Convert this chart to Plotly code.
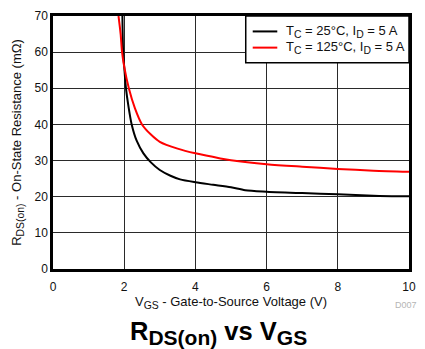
import plotly.graph_objects as go

# On-state resistance vs gate-source voltage, two case temperatures
vgs_25c = [1.95, 1.97, 2.0, 2.05, 2.12, 2.21, 2.35, 2.54, 2.75, 3.0, 3.3, 3.57,
           4.0, 4.5, 5.0, 5.4, 6.0, 7.0, 8.0, 9.0, 10.0]
rds_25c = [70, 60, 56, 50, 45, 40, 35.5, 32, 29.5, 27.4, 25.8, 24.8,
           24.0, 23.3, 22.6, 21.8, 21.4, 21.0, 20.7, 20.3, 20.1]

vgs_125c = [1.84, 1.90, 1.94, 2.0, 2.13, 2.3, 2.5, 2.75, 3.0, 3.5, 4.0,
            4.7, 5.0, 6.0, 7.0, 8.0, 9.0, 10.0]
rds_125c = [70, 65, 60, 56, 50, 44.5, 40, 37.2, 35.2, 33.3, 32.0,
            30.6, 30.1, 29.0, 28.3, 27.7, 27.2, 26.9]

legend_labels = [("T", "C", " = 25°C, ", "I", "D", " = 5 A"),
                 ("T", "C", " = 125°C, ", "I", "D", " = 5 A")]
legend_colors = ["black", "#ff0000"]

x_ticks = [0, 2, 4, 6, 8, 10]
y_ticks = [0, 10, 20, 30, 40, 50, 60, 70]

FONT = "Liberation Sans, Arial, sans-serif"
INK = "#111111"


def sub(text, px):
    """Subscript with an explicit pixel size (larger than plotly's 70 % default)."""
    return f"<sub><span style='font-size:{px}px'>{text}</span></sub>"


fig = go.Figure()
fig.add_trace(go.Scatter(
    x=vgs_25c, y=rds_25c, mode="lines", showlegend=False,
    line=dict(color=legend_colors[0], width=2, shape="spline", smoothing=0.8)))
fig.add_trace(go.Scatter(
    x=vgs_125c, y=rds_125c, mode="lines", showlegend=False,
    line=dict(color=legend_colors[1], width=2, shape="spline", smoothing=0.8)))

axis_common = dict(
    showline=True, linewidth=2.5, linecolor="black", mirror=True,
    showgrid=True, gridcolor="#2a2a2a", gridwidth=1,
    zeroline=False, ticks="", tickfont=dict(family=FONT, size=12, color=INK),
)

fig.update_xaxes(range=[0, 10], tickvals=x_ticks, ticklabelstandoff=5,
                 title=dict(text="V" + sub("GS", 10.4) + " - Gate-to-Source Voltage (V)",
                            font=dict(family=FONT, size=13, color=INK), standoff=0),
                 **axis_common)
fig.update_yaxes(range=[0, 70], tickvals=y_ticks,
                 title=dict(text="R" + sub("DS(on)", 10.4) + " - On-State Resistance (mΩ)",
                            font=dict(family=FONT, size=13, color=INK), standoff=10),
                 **axis_common)

# Legend: bordered box in the top-right corner of the plot area
shapes = [dict(type="rect", xref="paper", yref="paper", x0=0.5414, x1=1.0, y0=0.815, y1=1.0,
               line=dict(color="black", width=1.5), fillcolor="white", layer="above")]
annotations = []
row_y = [0.939, 0.875]
for (t, ts, mid, i, isub, tail), color, yy in zip(legend_labels, legend_colors, row_y):
    shapes.append(dict(type="line", xref="paper", yref="paper", x0=0.561, x1=0.630,
                       y0=yy, y1=yy, line=dict(color=color, width=2), layer="above"))
    annotations.append(dict(
        text=t + sub(ts, 10.4) + mid + i + sub(isub, 10.4) + tail,
        xref="paper", yref="paper", x=0.6497, y=yy, xanchor="left", yanchor="middle",
        showarrow=False, font=dict(family=FONT, size=13, color=INK)))

annotations += [
    dict(text="<b>R" + sub("DS(on)", 21) + " vs V" + sub("GS", 21) + "</b>",
         xref="paper", yref="paper", x=0.4637, y=-0.254, xanchor="center", yanchor="middle",
         showarrow=False, font=dict(family=FONT, size=25.5, color="black")),
    dict(text="D007", xref="paper", yref="paper", x=0.955, y=-0.142,
         xanchor="left", yanchor="middle", showarrow=False,
         font=dict(family=FONT, size=9, color="#b5b5b5")),
]

fig.update_layout(
    width=425, height=349,
    margin=dict(l=53, r=16, t=16, b=80, autoexpand=False),
    plot_bgcolor="white", paper_bgcolor="white",
    font=dict(family=FONT, color=INK),
    showlegend=False,
    shapes=shapes,
    annotations=annotations,
)

fig.write_html("out.html")
